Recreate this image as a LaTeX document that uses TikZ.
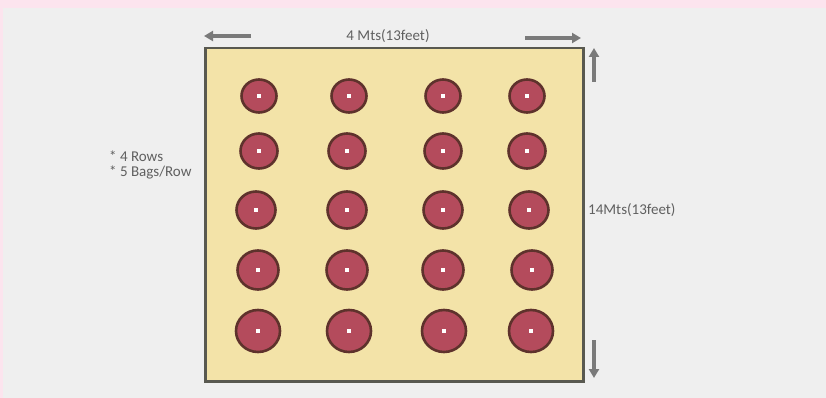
\documentclass[tikz,border=0pt]{standalone}
\usepackage{fontspec}
\setmainfont{Carlito}
\usetikzlibrary{arrows.meta}
\definecolor{bggray}{HTML}{EFEFEF}
\definecolor{bandpink}{HTML}{FCE4EE}
\definecolor{bedfill}{HTML}{F3E3A8}
\definecolor{bedline}{HTML}{595950}
\definecolor{bagfill}{HTML}{B44B5C}
\definecolor{bagline}{HTML}{5E322C}
\definecolor{arrgray}{HTML}{7A7A7A}
\definecolor{txtgray}{HTML}{606060}
\tikzset{
  bag/.style={draw=bagline, fill=bagfill, line width=2.6pt},
  dot/.style={fill=white, draw=none, minimum size=4.5pt, inner sep=0pt},
  dimarrow/.style={draw=arrgray, line width=4pt, -{Triangle[length=9pt,width=10pt]}},
  lbl/.style={text=txtgray, font=\fontsize{15}{18}\selectfont, inner sep=0pt},
}
\begin{document}
\begin{tikzpicture}[x=1pt,y=-1pt]
\useasboundingbox (0,0) rectangle (826,398);
\fill[bggray] (0,0) rectangle (826,398);
\fill[bandpink] (0,0) rectangle (826,8);
\fill[bandpink] (0,0) rectangle (3,398);
% bed
\node[draw=bedline, fill=bedfill, line width=2.5pt, minimum width=378pt, minimum height=333pt, inner sep=0pt, anchor=north west] (bed) at (204,47) {};
% bags
\foreach \r/\y/\rad/\xa/\xb/\xc/\xd in {1/96/17.5/259/349/443/527, 2/151/18.5/259/347/443/527, 3/210/19.5/256/347/443/529, 4/270/20.5/258/347/443/532, 5/331/22/258/349/444/531}{
  \foreach \c/\x in {1/\xa, 2/\xb, 3/\xc, 4/\xd}{
    \draw[bag] (\x,\y) ellipse [x radius=\rad pt, y radius=\rad pt-1pt];
    \node[dot] (bag-\r-\c) at (\x,\y) {};
  }
}
% dimension arrows
\coordinate (tl1) at (251,36);
\coordinate (tl2) at (204,36);
\coordinate (tr1) at (525,38);
\coordinate (tr2) at (581,38);
\coordinate (ru1) at (594,82);
\coordinate (ru2) at (594,48);
\coordinate (rd1) at (594,340);
\coordinate (rd2) at (594,378);
\draw[dimarrow] (tl1) -- (tl2);
\draw[dimarrow] (tr1) -- (tr2);
\draw[dimarrow] (ru1) -- (ru2);
\draw[dimarrow] (rd1) -- (rd2);
% labels
\node[lbl] (width) at (388,36) {4 Mts(13feet)};
\node[lbl, anchor=west] (length) at (588,210) {14Mts(13feet)};
\node[lbl, anchor=west] (rows) at (109,156) {* 4 Rows};
\node[lbl, anchor=west] (perrow) at (109,172) {* 5 Bags/Row};
\end{tikzpicture}
\end{document}
